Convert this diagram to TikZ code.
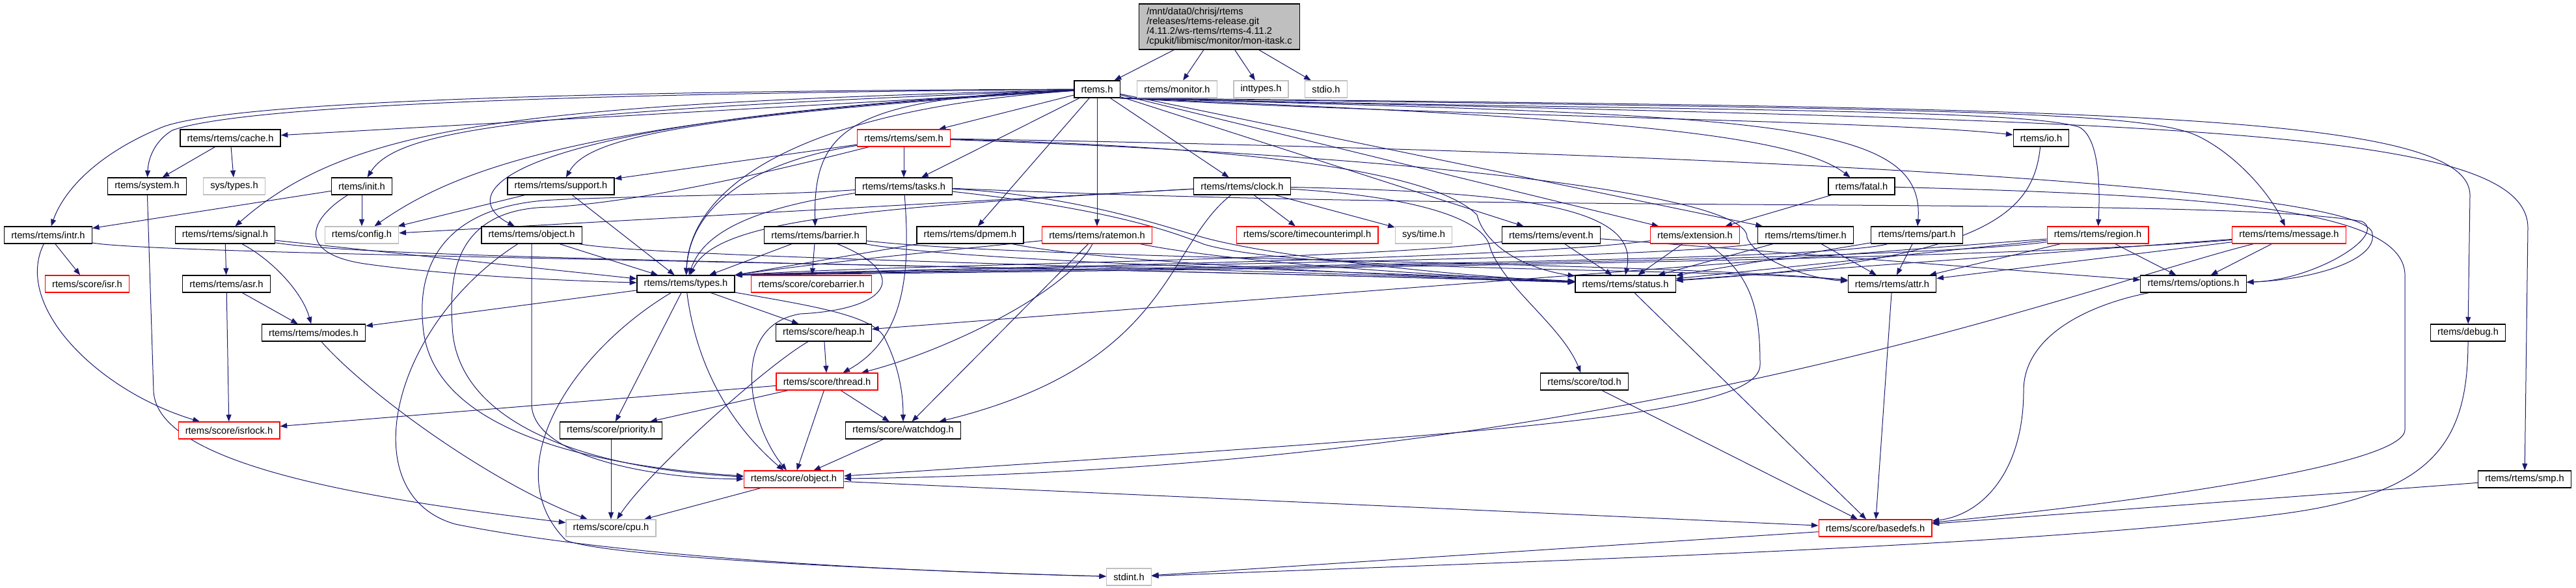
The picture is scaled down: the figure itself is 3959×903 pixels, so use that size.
\documentclass[tikz,border=0pt]{standalone}
\usepackage{fontspec}
\setmainfont{Liberation Sans}
\usetikzlibrary{arrows.meta,backgrounds}
\definecolor{edgeblue}{HTML}{191970}
\definecolor{boxgray}{HTML}{BFBFBF}
\begin{document}
\begin{tikzpicture}[x=0.75pt, y=-0.75pt,
        font=\fontsize{11}{11.25}\selectfont,
        hdr/.style={draw=black, line width=0.9pt, fill=white, inner xsep=8pt, inner ysep=0pt, minimum height=19.5pt},
        redhdr/.style={hdr, draw=red},
        grayhdr/.style={hdr, draw=boxgray},
        inc/.style={draw=edgeblue, line width=0.75pt, -{Triangle[length=8pt,width=6pt]}}]
    \useasboundingbox (0,0) rectangle (3959,903);
    \node[hdr, fill=boxgray, align=left, minimum width=185pt, minimum height=52.5pt] (root) at (1874,41)
        {/mnt/data0/chrisj/rtems\\/releases/rtems-release.git\\/4.11.2/ws-rtems/rtems-4.11.2\\/cpukit/libmisc/monitor/mon-itask.c};
    \node[hdr] (rtemsh) at (1686,137) {rtems.h};
    \node[grayhdr] (monitor) at (1809,137) {rtems/monitor.h};
    \node[grayhdr] (inttypes) at (1938,137) {inttypes.h};
    \node[grayhdr] (stdio) at (2038,137) {stdio.h};
    \node[hdr] (cache) at (354,212) {rtems/rtems/cache.h};
    \node[redhdr] (sem) at (1389,212) {rtems/rtems/sem.h};
    \node[hdr] (io) at (3137,212) {rtems/io.h};
    \node[hdr] (system) at (226,286) {rtems/system.h};
    \node[grayhdr] (systypes) at (360,286) {sys/types.h};
    \node[hdr] (init) at (556,286) {rtems/init.h};
    \node[hdr] (support) at (862,286) {rtems/rtems/support.h};
    \node[hdr] (tasks) at (1389,286) {rtems/rtems/tasks.h};
    \node[hdr] (clock) at (1909,286) {rtems/rtems/clock.h};
    \node[hdr] (fatal) at (2861,286) {rtems/fatal.h};
    \node[hdr] (intr) at (74,361) {rtems/rtems/intr.h};
    \node[hdr] (signal) at (346,361) {rtems/rtems/signal.h};
    \node[grayhdr] (config) at (556,361) {rtems/config.h};
    \node[hdr] (robject) at (817,361) {rtems/rtems/object.h};
    \node[hdr] (barrier) at (1253,361) {rtems/rtems/barrier.h};
    \node[hdr] (dpmem) at (1491,361) {rtems/rtems/dpmem.h};
    \node[redhdr] (ratemon) at (1686,361) {rtems/rtems/ratemon.h};
    \node[redhdr] (tcimpl) at (2009,361) {rtems/score/timecounterimpl.h};
    \node[grayhdr] (systime) at (2188,361) {sys/time.h};
    \node[hdr] (event) at (2384,361) {rtems/rtems/event.h};
    \node[redhdr] (extension) at (2605,361) {rtems/extension.h};
    \node[hdr] (timer) at (2775,361) {rtems/rtems/timer.h};
    \node[hdr] (part) at (2946,361) {rtems/rtems/part.h};
    \node[redhdr] (region) at (3224,361) {rtems/rtems/region.h};
    \node[redhdr] (message) at (3518,361) {rtems/rtems/message.h};
    \node[redhdr] (isr) at (134,436) {rtems/score/isr.h};
    \node[hdr] (asr) at (348,436) {rtems/rtems/asr.h};
    \node[hdr] (types) at (1054,436) {rtems/rtems/types.h};
    \node[redhdr] (corebarrier) at (1247,436) {rtems/score/corebarrier.h};
    \node[hdr] (status) at (2498,436) {rtems/rtems/status.h};
    \node[hdr] (attr) at (2908,436) {rtems/rtems/attr.h};
    \node[hdr] (options) at (3371,436) {rtems/rtems/options.h};
    \node[hdr] (modes) at (482,511) {rtems/rtems/modes.h};
    \node[hdr] (heap) at (1266,511) {rtems/score/heap.h};
    \node[hdr] (debug) at (3793,511) {rtems/debug.h};
    \node[redhdr] (thread) at (1271,586) {rtems/score/thread.h};
    \node[hdr] (tod) at (2435,586) {rtems/score/tod.h};
    \node[redhdr] (isrlock) at (352,661) {rtems/score/isrlock.h};
    \node[hdr] (priority) at (939,661) {rtems/score/priority.h};
    \node[hdr] (watchdog) at (1388,661) {rtems/score/watchdog.h};
    \node[redhdr] (sobject) at (1220,736) {rtems/score/object.h};
    \node[hdr] (smp) at (3880,736) {rtems/rtems/smp.h};
    \node[grayhdr] (cpu) at (939,811) {rtems/score/cpu.h};
    \node[redhdr] (basedefs) at (2882,811) {rtems/score/basedefs.h};
    \node[grayhdr] (stdint) at (1735,886) {stdint.h};
    \begin{scope}[on background layer]
    \draw[inc] (root) -- (rtemsh);
    \draw[inc] (root) -- (monitor);
    \draw[inc] (root) -- (inttypes);
    \draw[inc] (root) -- (stdio);
    \draw[inc] (rtemsh) -- (cache);
    \draw[inc] (rtemsh) .. controls (700,145) and (350,170) .. (265,200) .. controls (240,215) and (228,240) .. (system);
    \draw[inc] (rtemsh) .. controls (700,140) and (330,165) .. (250,195) .. controls (140,240) and (95,300) .. (intr);
    \draw[inc] (rtemsh) .. controls (800,160) and (540,190) .. (signal);
    \draw[inc] (rtemsh) .. controls (800,170) and (610,200) .. (init);
    \draw[inc] (rtemsh) .. controls (900,180) and (700,260) .. (config);
    \draw[inc] (rtemsh) .. controls (1000,180) and (900,220) .. (support);
    \draw[inc] (rtemsh) .. controls (740,185) and (700,300) .. (robject);
    \draw[inc] (rtemsh) .. controls (1200,170) and (1060,300) .. (types);
    \draw[inc] (rtemsh) -- (sem);
    \draw[inc] (rtemsh) -- (tasks);
    \draw[inc] (rtemsh) .. controls (1300,150) and (1250,200) .. (barrier);
    \draw[inc] (rtemsh) -- (dpmem);
    \draw[inc] (rtemsh) -- (ratemon);
    \draw[inc] (rtemsh) -- (clock);
    \draw[inc] (rtemsh) -- (event);
    \draw[inc] (rtemsh) -- (extension);
    \draw[inc] (rtemsh) -- (timer);
    \draw[inc] (rtemsh.south east) .. controls (2400,178) and (2750,200) .. (fatal);
    \draw[inc] (rtemsh.south east) .. controls (2700,178) and (2960,180) .. (part);
    \draw[inc] (rtemsh.south east) .. controls (2200,178) and (2900,185) .. (io);
    \draw[inc] (rtemsh.south east) .. controls (2500,170) and (3100,165) .. (3195,195) .. controls (3225,210) and (3228,280) .. (region);
    \draw[inc] (rtemsh.south east) .. controls (3000,168) and (3300,170) .. (3380,210) .. controls (3440,240) and (3490,300) .. (message);
    \draw[inc] (rtemsh.south east) .. controls (3200,166) and (3796,170) .. (3796,300) -- (debug);
    \draw[inc] (rtemsh.south east) .. controls (3300,188) and (3885,190) .. (3885,350) -- (smp);
    \draw[inc] (cache) -- (system);
    \draw[inc] (cache) -- (systypes);
    \draw[inc] (system) -- (236,600) .. controls (240,720) and (600,770) .. (cpu);
    \draw[inc] (init) -- (intr);
    \draw[inc] (init) -- (config);
    \draw[inc] (init) .. controls (470,340) and (460,390) .. (560,405) .. controls (700,425) and (900,432) .. (types);
    \draw[inc] (intr) -- (isr);
    \draw[inc] (intr) .. controls (20,470) and (150,600) .. (isrlock);
    \draw[inc] (intr) .. controls (250,392) and (1500,405) .. (status);
    \draw[inc] (signal) -- (asr);
    \draw[inc] (signal) .. controls (420,400) and (465,450) .. (modes);
    \draw[inc] (signal) -- (types);
    \draw[inc] (signal) .. controls (600,400) and (1500,405) .. (status);
    \draw[inc] (asr) -- (modes);
    \draw[inc] (asr) -- (isrlock);
    \draw[inc] (modes) .. controls (560,600) and (750,740) .. (cpu);
    \draw[inc] (support) -- (config);
    \draw[inc] (support) -- (types);
    \draw[inc] (robject) -- (types);
    \draw[inc] (robject) .. controls (1000,395) and (1800,410) .. (status);
    \draw[inc] (robject) -- (817,620) .. controls (817,700) and (1000,735) .. (sobject);
    \draw[inc] (robject) .. controls (600,500) and (540,760) .. (700,805) .. controls (1000,865) and (1500,880) .. (stdint);
    \draw[inc] (sem) -- (tasks);
    \draw[inc] (sem) -- (support);
    \draw[inc] (sem) .. controls (1150,250) and (1060,320) .. (types);
    \draw[inc] (sem) .. controls (1900,225) and (2200,260) .. (2270,330) .. controls (2280,370) and (2330,410) .. (status);
    \draw[inc] (sem) .. controls (2200,240) and (2690,300) .. (2685,365) .. controls (2700,400) and (2780,428) .. (attr);
    \draw[inc] (sem) .. controls (1200,260) and (1000,308) .. (850,318) .. controls (700,318) and (690,420) .. (695,500) .. controls (700,650) and (900,720) .. (sobject);
    \draw[inc] (sem) .. controls (2500,230) and (3600,280) .. (3645,355) .. controls (3660,400) and (3550,430) .. (options);
    \draw[inc] (tasks) .. controls (1150,320) and (1080,360) .. (types);
    \draw[inc] (tasks) .. controls (1650,300) and (1780,345) .. (1840,362) .. controls (1950,395) and (2250,425) .. (status);
    \draw[inc] (tasks) .. controls (1700,320) and (1800,355) .. (1850,375) .. controls (2000,420) and (2600,410) .. (attr);
    \draw[inc] (tasks) .. controls (1400,420) and (1390,520) .. (thread);
    \draw[inc] (tasks) .. controls (2400,330) and (3400,300) .. (3630,340) .. controls (3670,360) and (3560,430) .. (options);
    \draw[inc] (tasks) .. controls (1200,300) and (1000,300) .. (850,307) .. controls (690,315) and (640,400) .. (650,500) .. controls (660,640) and (850,712) .. (sobject);
    \draw[inc] (clock) -- (config);
    \draw[inc] (clock) .. controls (1300,320) and (1100,340) .. (types);
    \draw[inc] (clock) .. controls (2350,295) and (2520,320) .. (status.north);
    \draw[inc] (clock) -- (tcimpl);
    \draw[inc] (clock) -- (systime);
    \draw[inc] (clock) .. controls (2150,300) and (2280,330) .. (2290,380) .. controls (2310,440) and (2400,500) .. (tod);
    \draw[inc] (clock) .. controls (1790,380) and (1800,560) .. (watchdog);
    \draw[inc] (barrier) -- (types);
    \draw[inc] (barrier) -- (corebarrier);
    \draw[inc] (barrier) .. controls (1500,405) and (2200,420) .. (status);
    \draw[inc] (barrier) .. controls (1600,400) and (2500,400) .. (attr);
    \draw[inc] (barrier) .. controls (1400,420) and (1370,475) .. (1230,482) .. controls (1120,500) and (1150,650) .. (sobject);
    \draw[inc] (dpmem) -- (types.north east);
    \draw[inc] (dpmem) .. controls (1700,405) and (2200,425) .. (status);
    \draw[inc] (ratemon) .. controls (1400,390) and (1250,405) .. (types.north east);
    \draw[inc] (ratemon) .. controls (1900,405) and (2250,425) .. (status);
    \draw[inc] (ratemon) .. controls (1640,450) and (1450,540) .. (thread);
    \draw[inc] (ratemon) -- (watchdog);
    \draw[inc] (event) .. controls (2100,400) and (1400,405) .. (types.north east);
    \draw[inc] (event) -- (status);
    \draw[inc] (event) -- (options);
    \draw[inc] (extension) -- (status);
    \draw[inc] (extension) .. controls (2300,400) and (1500,410) .. (types.north east);
    \draw[inc] (extension) .. controls (2690,420) and (2705,470) .. (2705,560) .. controls (2705,640) and (2300,665) .. (sobject);
    \draw[inc] (timer) -- (status);
    \draw[inc] (timer) -- (attr);
    \draw[inc] (timer) .. controls (2550,400) and (1500,410) .. (types.north east);
    \draw[inc] (part) -- (attr);
    \draw[inc] (part) -- (status);
    \draw[inc] (part) .. controls (2800,405) and (1500,412) .. (types.north east);
    \draw[inc] (region) -- (status);
    \draw[inc] (region) -- (attr);
    \draw[inc] (region) -- (options);
    \draw[inc] (region) -- (heap);
    \draw[inc] (region) .. controls (2900,405) and (1500,415) .. (types.north east);
    \draw[inc] (message) -- (status);
    \draw[inc] (message) -- (attr);
    \draw[inc] (message) -- (options);
    \draw[inc] (message) .. controls (3000,405) and (1500,418) .. (types.north east);
    \draw[inc] (message) .. controls (3200,440) and (2500,720) .. (sobject);
    \draw[inc] (fatal) -- (extension);
    \draw[inc] (fatal) .. controls (3400,300) and (3690,320) .. (3696,420) -- (3696,660) .. controls (3696,720) and (3200,780) .. (basedefs);
    \draw[inc] (io) .. controls (3125,330) and (3050,400) .. (status);
    \draw[inc] (types) -- (modes);
    \draw[inc] (types) -- (heap);
    \draw[inc] (types) -- (priority);
    \draw[inc] (types) .. controls (1070,560) and (1120,650) .. (sobject);
    \draw[inc] (types) .. controls (1250,470) and (1345,485) .. (1360,520) .. controls (1380,560) and (1388,600) .. (watchdog);
    \draw[inc] (types) .. controls (880,540) and (760,720) .. (870,830) .. controls (950,860) and (1500,880) .. (stdint);
    \draw[inc] (heap) -- (thread);
    \draw[inc] (heap) .. controls (1180,560) and (1000,720) .. (cpu);
    \draw[inc] (thread) -- (isrlock);
    \draw[inc] (thread) -- (priority);
    \draw[inc] (thread) -- (watchdog);
    \draw[inc] (thread) -- (sobject);
    \draw[inc] (priority) -- (cpu);
    \draw[inc] (watchdog) -- (sobject);
    \draw[inc] (sobject) -- (cpu);
    \draw[inc] (sobject) -- (basedefs);
    \draw[inc] (tod) -- (basedefs);
    \draw[inc] (status) -- (basedefs);
    \draw[inc] (attr) -- (basedefs);
    \draw[inc] (options) .. controls (3200,470) and (3110,520) .. (3110,600) .. controls (3110,720) and (3050,790) .. (basedefs);
    \draw[inc] (smp) -- (basedefs);
    \draw[inc] (debug) .. controls (3793,680) and (3740,760) .. (3500,790) .. controls (3100,840) and (2400,860) .. (stdint);
    \draw[inc] (basedefs) -- (stdint);
    \end{scope}
\end{tikzpicture}
\end{document}
